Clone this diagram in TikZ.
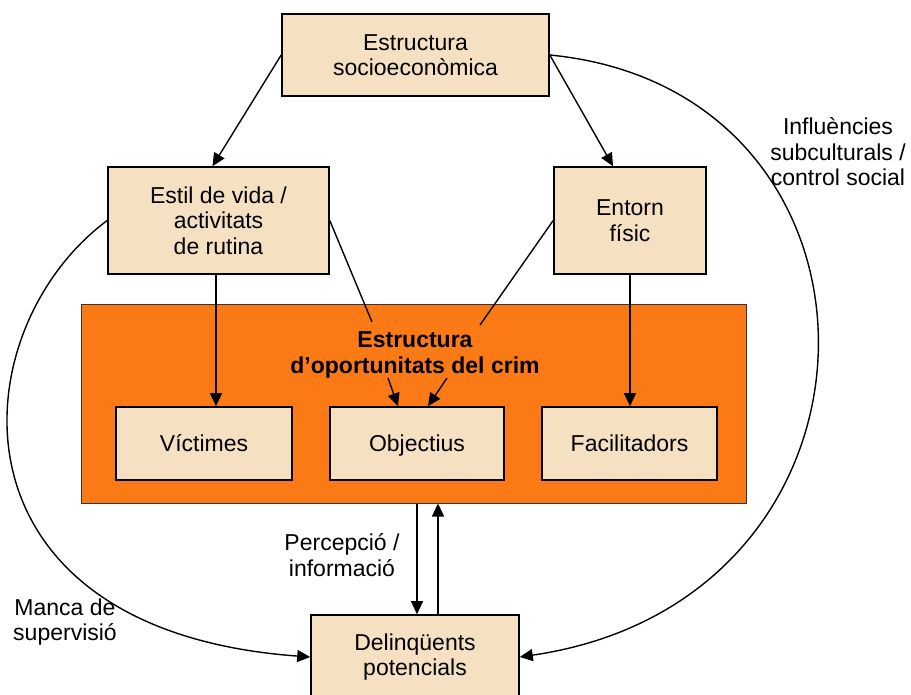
\documentclass[tikz,border=0pt]{standalone}
\usepackage{fontspec}
\setmainfont{Liberation Sans}
\usepackage{xcolor}
\usetikzlibrary{shapes,arrows.meta}
\definecolor{boxfill}{HTML}{F5E1C2}
\definecolor{crimfill}{HTML}{FC7A16}

\begin{document}
\begin{tikzpicture}[x=1pt, y=-1pt, font=\fontsize{23}{25.5}\selectfont]
\tikzstyle{boxr}=[rectangle, draw=black, line width=1.6pt, fill=boxfill, align=center, inner sep=2pt]
\tikzstyle{bigbox}=[rectangle, draw=black!80, line width=1pt, fill=crimfill, inner sep=0pt]
\tikzstyle{labeltext}=[align=center, inner sep=0pt]
\tikzstyle{drawstyle}=[line width=1.4pt, -{Triangle[length=13pt, width=12pt]}]
\tikzstyle{linestyle}=[line width=1.4pt]

\useasboundingbox (0,0) rectangle (911,695);

\node[bigbox, minimum width=665pt, minimum height=198pt] (crim) at (413.5,404) {};
\node[labeltext, font=\fontsize{23}{25.5}\selectfont\bfseries] (oport) at (415,355) {Estructura\\d’oportunitats del crim};

\node[boxr, minimum width=267pt, minimum height=82pt] (top) at (415.5,55) {Estructura\\socioeconòmica};
\node[boxr, minimum width=221pt, minimum height=107pt] (estil) at (218.5,220.5) {Estil de vida /\\activitats\\de rutina};
\node[boxr, minimum width=152pt, minimum height=107pt] (entorn) at (630,220.5) {Entorn\\físic};
\node[boxr, minimum width=176pt, minimum height=73pt] (victimes) at (204,443.5) {Víctimes};
\node[boxr, minimum width=174pt, minimum height=73pt, text depth=0pt] (objectius) at (417,443.5) {Objectius};
\node[boxr, minimum width=175pt, minimum height=73pt] (facil) at (629.5,443.5) {Facilitadors};
\node[boxr, minimum width=208pt, minimum height=84pt] (delinq) at (415,657) {Delinqüents\\potencials};

\node[labeltext] (percep) at (342,555) {Percepció /\\informació};
\node[labeltext] (manca) at (65,622) {Manca de\\supervisió};
\node[labeltext] (influ) at (838,152) {Influències\\subculturals /\\control social};

% from the top box
\draw[drawstyle] (top.west) -- ([xshift=-6pt]estil.north);
\draw[drawstyle] (top.east) -- ([xshift=-17pt]entorn.north);

% down into the opportunity structure
\draw[drawstyle] ([xshift=-2.5pt]estil.south) -- ([xshift=-2.5pt]estil.south |- victimes.north);
\draw[drawstyle] (entorn.south) -- (entorn.south |- facil.north);
\draw[linestyle] (estil.east) -- ([shift={(-43,-33)}]oport.center);
\draw[linestyle] (entorn.west) -- ([shift={(65,-30)}]oport.center);
\draw[drawstyle] ([shift={(-27,23)}]oport.center) -- ([xshift=-19pt]objectius.north);
\draw[drawstyle] ([shift={(32,23)}]oport.center) -- ([xshift=11pt]objectius.north);

% perception / information
\draw[drawstyle] ([xshift=2pt]delinq.north |- crim.south) -- ([xshift=2pt]delinq.north);
\draw[drawstyle] ([xshift=23pt]delinq.north) -- ([xshift=23pt]delinq.north |- crim.south);

% the two long curves
\draw[drawstyle] (estil.west) .. controls +(-148,110) and +(-371,-27) .. (delinq.west);
\draw[drawstyle] (top.east) .. controls +(361,35) and +(391,-57) .. (delinq.east);
\end{tikzpicture}
\end{document}
